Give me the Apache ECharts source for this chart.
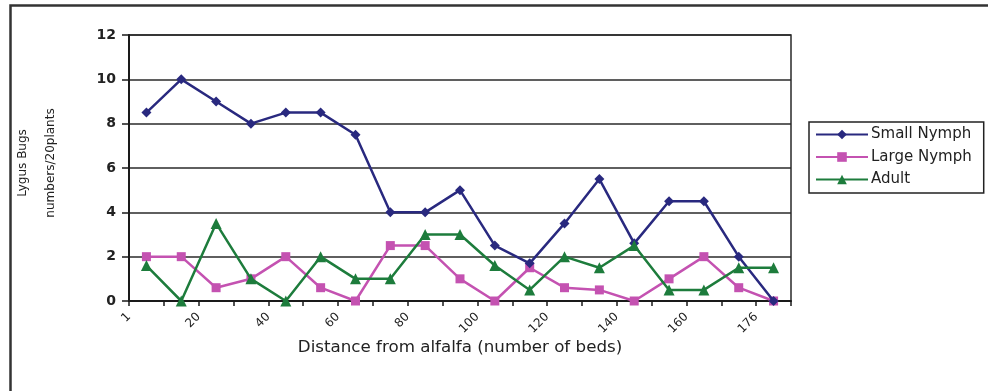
<!DOCTYPE html>
<html>
<head>
<meta charset="utf-8">
<script src="https://cdn.jsdelivr.net/npm/echarts@6/dist/echarts.min.js"></script>
<style>
  html, body { margin: 0; padding: 0; background: #fff; }
  #chart { width: 988px; height: 391px; }
</style>
</head>
<body>
<div id="chart"></div>
<script>
// Lygus bug counts per 20 plants, sampled along 19 bed groups moving away from alfalfa
const xTickLabels = ['1', '20', '40', '60', '80', '100', '120', '140', '160', '176'];
const yTicks = [0, 2, 4, 6, 8, 10, 12];
const smallNymph = [8.5, 10, 9, 8, 8.5, 8.5, 7.5, 4, 4, 5, 2.5, 1.7, 3.5, 5.5, 2.6, 4.5, 4.5, 2, 0];
const largeNymph = [2, 2, 0.6, 1, 2, 0.6, 0, 2.5, 2.5, 1, 0, 1.5, 0.6, 0.5, 0, 1, 2, 0.6, 0];
const adult = [1.6, 0, 3.5, 1, 0, 2, 1, 1, 3, 3, 1.6, 0.5, 2, 1.5, 2.5, 0.5, 0.5, 1.5, 1.5];

const FONT = 'DejaVu Sans';

// each sample sits in the middle of its bed group; group boundaries carry the ticks
function toPoints(values) {
  return values.map((v, i) => [i + 0.5, v]);
}

const chart = echarts.init(document.getElementById('chart'), null, { renderer: 'canvas' });

chart.setOption({
  animation: false,
  backgroundColor: '#ffffff',
  grid: {
    left: 129, right: 197, top: 35, bottom: 90,
    show: true, borderColor: '#2a2a2a', borderWidth: 1.5
  },
  xAxis: {
    type: 'value',
    min: 0,
    max: smallNymph.length,
    interval: 1,
    axisLine: { lineStyle: { color: '#1a1a1a', width: 2 } },
    axisTick: { show: true, length: 5, lineStyle: { color: '#1a1a1a', width: 1.5 } },
    splitLine: { show: false },
    axisLabel: {
      rotate: 45,
      margin: 14,
      fontFamily: FONT,
      fontSize: 12,
      color: '#222',
      showMinLabel: true,
      showMaxLabel: true,
      formatter: function (v) {
        return v % 2 === 0 ? (xTickLabels[v / 2] || '') : '';
      }
    }
  },
  yAxis: {
    type: 'value',
    min: yTicks[0],
    max: yTicks[yTicks.length - 1],
    interval: 2,
    axisLine: { show: true, lineStyle: { color: '#1a1a1a', width: 2 } },
    axisTick: { show: true, length: 7, lineStyle: { color: '#1a1a1a', width: 1.5 } },
    splitLine: { show: true, lineStyle: { color: '#2a2a2a', width: 1.5 } },
    axisLabel: {
      margin: 13,
      fontFamily: FONT,
      fontSize: 14,
      fontWeight: 'bold',
      color: '#222'
    }
  },
  legend: {
    orient: 'vertical',
    left: 809,
    top: 122,
    padding: [5, 12, 6, 6],
    itemGap: 7.5,
    itemWidth: 52,
    itemHeight: 12,
    borderColor: '#222',
    borderWidth: 1.5,
    textStyle: { fontFamily: FONT, fontSize: 15, color: '#222', padding: [0, 0, 0, -2] },
    data: ['Small Nymph', 'Large Nymph', 'Adult']
  },
  series: [
    {
      name: 'Small Nymph',
      type: 'line',
      data: toPoints(smallNymph),
      symbol: 'diamond',
      symbolSize: 10,
      color: '#29297f',
      lineStyle: { width: 2.5 },
      z: 3
    },
    {
      name: 'Large Nymph',
      type: 'line',
      data: toPoints(largeNymph),
      symbol: 'rect',
      symbolSize: 9,
      color: '#c452b1',
      lineStyle: { width: 2.5 },
      z: 2
    },
    {
      name: 'Adult',
      type: 'line',
      data: toPoints(adult),
      symbol: 'triangle',
      symbolSize: 11,
      color: '#1d7c3c',
      lineStyle: { width: 2.5 },
      z: 4
    }
  ],
  graphic: [
    {
      type: 'rect',
      shape: { x: 10.5, y: 5.5, width: 1000, height: 400 },
      style: { fill: 'none', stroke: '#333', lineWidth: 2.5 },
      silent: true
    },
    {
      type: 'text',
      x: 460, y: 348,
      style: {
        text: 'Distance from alfalfa (number of beds)',
        font: '16.7px "DejaVu Sans"',
        fill: '#222',
        align: 'center',
        verticalAlign: 'middle'
      }
    },
    {
      type: 'text',
      x: 23, y: 163,
      rotation: Math.PI / 2,
      style: {
        text: 'Lygus Bugs',
        font: '12px "DejaVu Sans"',
        fill: '#222',
        align: 'center',
        verticalAlign: 'middle'
      }
    },
    {
      type: 'text',
      x: 51, y: 163,
      rotation: Math.PI / 2,
      style: {
        text: 'numbers/20plants',
        font: '12px "DejaVu Sans"',
        fill: '#222',
        align: 'center',
        verticalAlign: 'middle'
      }
    }
  ]
});
</script>
</body>
</html>
